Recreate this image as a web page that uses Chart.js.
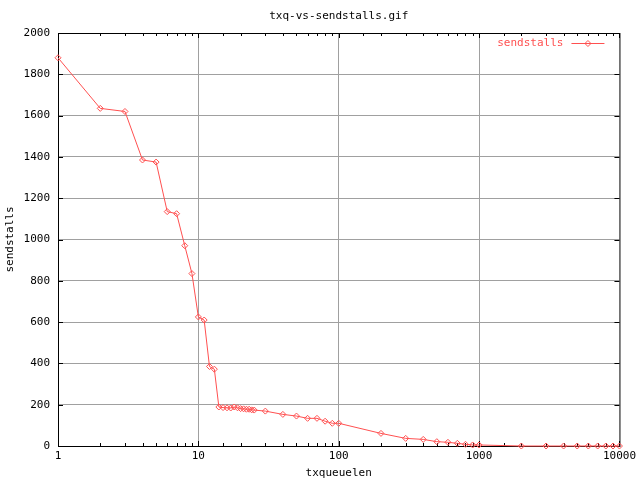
<!DOCTYPE html>
<html lang="en">

<head>
    <meta charset="UTF-8">
    <title>txq-vs-sendstalls</title>
    <script src="https://cdn.jsdelivr.net/npm/chart.js"></script>
    <style>
        body { margin: 0; background: #fff; }
    </style>
</head>

<body>
    <canvas id="txqChart" width="640" height="480"></canvas>

    <script>
        // values
        const txqueuelen = [1, 2, 3, 4, 5, 6, 7, 8, 9, 10, 11, 12, 13, 14, 15, 16, 17, 18, 19, 20, 21, 22, 23, 24, 25,
            30, 40, 50, 60, 70, 80, 90, 100, 200, 300, 400, 500, 600, 700, 800, 900, 1000,
            2000, 3000, 4000, 5000, 6000, 7000, 8000, 9000, 10000];
        const sendstalls = [1880, 1635, 1620, 1385, 1375, 1135, 1125, 970, 835, 625, 610, 385, 372, 189, 186, 185, 184, 189, 185, 181, 180, 178, 178, 175, 174,
            169, 153, 145, 134, 134, 120, 110, 110, 61, 37, 32, 21, 18, 13, 8, 5, 5,
            0, 0, 0, 0, 0, 0, 0, 0, 0];
        const xTickLabels = [1, 10, 100, 1000, 10000];
        const yTicks = [0, 200, 400, 600, 800, 1000, 1200, 1400, 1600, 1800, 2000];

        const red = 'rgb(255, 80, 80)';
        const gridGrey = '#a0a0a0';
        const monoFont = { family: 'DejaVu Sans Mono', size: 11 };

        const isDecade = v => Math.abs(Math.log10(v) - Math.round(Math.log10(v))) < 1e-9;

        // gnuplot style frame: box, inward ticks on all four sides, legend top right
        const gnuplotFrame = {
            id: 'gnuplotFrame',
            beforeDatasetsDraw(chart) {
                const { ctx, chartArea: a, scales: { x, y } } = chart;
                ctx.save();
                ctx.strokeStyle = '#000';
                ctx.lineWidth = 1;
                ctx.strokeRect(a.left + 0.5, a.top + 0.5, a.right - a.left, a.bottom - a.top);
                ctx.beginPath();
                x.ticks.forEach(t => {
                    const px = Math.round(x.getPixelForValue(t.value)) + 0.5;
                    const len = isDecade(t.value) ? 5 : 3;
                    ctx.moveTo(px, a.bottom); ctx.lineTo(px, a.bottom - len);
                    ctx.moveTo(px, a.top); ctx.lineTo(px, a.top + len);
                });
                y.ticks.forEach(t => {
                    const py = Math.round(y.getPixelForValue(t.value)) + 0.5;
                    ctx.moveTo(a.left, py); ctx.lineTo(a.left + 5, py);
                    ctx.moveTo(a.right, py); ctx.lineTo(a.right - 5, py);
                });
                ctx.stroke();

                // legend entry
                const ly = a.top + 10.5;
                ctx.font = '11px "DejaVu Sans Mono"';
                ctx.fillStyle = red;
                ctx.textAlign = 'right';
                ctx.textBaseline = 'middle';
                ctx.fillText(chart.data.datasets[0].label, a.right - 56, ly);
                ctx.strokeStyle = red;
                ctx.beginPath();
                ctx.moveTo(a.right - 48, ly); ctx.lineTo(a.right - 15, ly);
                ctx.stroke();
                ctx.beginPath();
                const mx = a.right - 31.5;
                ctx.moveTo(mx, ly - 3); ctx.lineTo(mx + 3, ly); ctx.lineTo(mx, ly + 3); ctx.lineTo(mx - 3, ly); ctx.closePath();
                ctx.stroke();
                ctx.restore();
            }
        };

        new Chart(document.getElementById('txqChart'), {
            type: 'line',
            data: {
                datasets: [{
                    label: 'sendstalls',
                    data: txqueuelen.map((v, i) => ({ x: v, y: sendstalls[i] })),
                    borderColor: red,
                    borderWidth: 1,
                    pointStyle: 'rectRot',
                    pointRadius: 3,
                    pointBorderWidth: 1,
                    pointBorderColor: red,
                    pointBackgroundColor: 'rgba(0,0,0,0)',
                    tension: 0,
                    clip: 6
                }]
            },
            options: {
                responsive: false,
                animation: false,
                layout: { padding: { left: 0, right: 1.5, top: 0, bottom: 0 } },
                plugins: {
                    legend: { display: false },
                    tooltip: { enabled: false },
                    title: {
                        display: true,
                        text: 'txq-vs-sendstalls.gif',
                        color: '#000',
                        font: { ...monoFont, weight: 'normal' },
                        fullSize: false,
                        padding: { top: 10, bottom: 9.8 }
                    }
                },
                scales: {
                    x: {
                        type: 'logarithmic',
                        min: 1,
                        max: 10000,
                        afterFit(scale) { scale.height = 34; },
                        border: { display: false },
                        grid: {
                            drawTicks: false,
                            color: c => (c.tick && isDecade(c.tick.value) && c.tick.value > 1 && c.tick.value < 10000) ? gridGrey : 'rgba(0,0,0,0)'
                        },
                        ticks: {
                            autoSkip: false,
                            maxRotation: 0,
                            padding: 4,
                            color: '#000',
                            font: monoFont,
                            callback: v => xTickLabels.includes(v) ? String(v) : ''
                        },
                        title: {
                            display: true,
                            text: 'txqueuelen',
                            color: '#000',
                            font: monoFont,
                            padding: { top: 0, bottom: 0 }
                        }
                    },
                    y: {
                        min: 0,
                        max: 2000,
                        afterFit(scale) { scale.width = 58; },
                        afterBuildTicks(scale) { scale.ticks = yTicks.map(v => ({ value: v })); },
                        border: { display: false },
                        grid: {
                            drawTicks: false,
                            color: c => (c.tick && c.tick.value > 0 && c.tick.value < 2000) ? gridGrey : 'rgba(0,0,0,0)'
                        },
                        ticks: {
                            padding: 8,
                            color: '#000',
                            font: monoFont,
                            callback: v => String(v)
                        },
                        title: {
                            display: true,
                            text: 'sendstalls',
                            color: '#000',
                            font: monoFont,
                            padding: { top: 4, bottom: 0 }
                        }
                    }
                }
            },
            plugins: [gnuplotFrame]
        });
    </script>
</body>

</html>
